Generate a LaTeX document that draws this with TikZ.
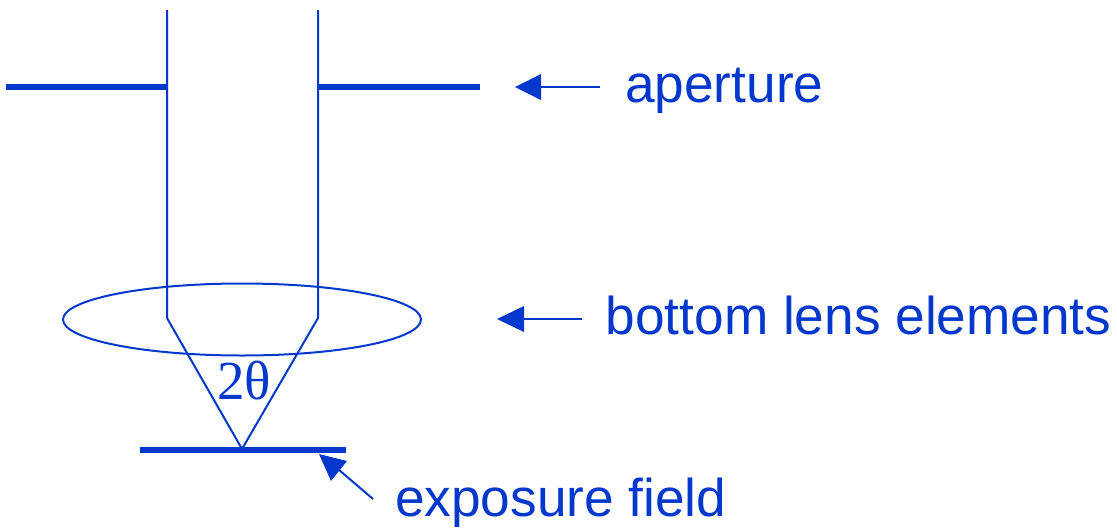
\documentclass[tikz,border=0pt]{standalone}
\usepackage{fontspec}
\setmainfont{Liberation Sans}
\newfontfamily\serifgr{Liberation Serif}
\definecolor{lensblue}{RGB}{3,56,205}
\tikzset{x=1pt,y=-1pt,
 thinl/.style={draw=lensblue,line width=2pt},
 thickl/.style={draw=lensblue,line width=5.5pt},
 pointer/.style={draw=lensblue,line width=2pt},
 headtip/.style={fill=lensblue,draw=none},
 lab/.style={text=lensblue,font=\fontsize{53.2}{56}\selectfont,inner sep=0pt,anchor=base west}}
\begin{document}
\begin{tikzpicture}
\useasboundingbox (0,0) rectangle (1117,528);
\coordinate (apL1) at (6,87); \coordinate (apL2) at (167,87);
\coordinate (apR1) at (318,87); \coordinate (apR2) at (480,87);
\coordinate (bL) at (167,10); \coordinate (bR) at (318,10);
\coordinate (kL) at (167,318); \coordinate (kR) at (318,318);
\coordinate (focus) at (242,449);
\coordinate (f1) at (139.5,450); \coordinate (f2) at (346,450);
\draw[thickl] (apL1)--(apL2);
\draw[thickl] (apR1)--(apR2);
\draw[thinl] (bL)--(kL)--(focus)--(kR)--(bR);
\draw[thinl] (242,319.5) ellipse [x radius=179,y radius=36];
\draw[thickl] (f1)--(f2);
\node[text=lensblue,font=\serifgr\fontsize{55}{58}\selectfont,inner sep=0pt,anchor=base] (theta) at (244,399.5) {2θ};
\node[lab] (aperture) at (625,102.5) {aperture};
\node[lab] (lens) at (605.5,334.5) {bottom lens elements};
\node[lab] (field) at (395,516.5) {exposure field};
\coordinate (a1) at (600,87); \coordinate (a2) at (540,87); \coordinate (a3) at (515,87);
\draw[pointer] (a1)--(a2);
\fill[headtip] (a3)--(541,74)--(541,100)--cycle;
\coordinate (b1) at (582,319); \coordinate (b2) at (520,319);
\draw[pointer] (b1)--(b2);
\fill[headtip] (497,319)--(524,306)--(524,332)--cycle;
\coordinate (c1) at (373,499); \coordinate (c2) at (338,469);
\draw[pointer] (c1)--(c2);
\fill[headtip] (319,454)--(347,461)--(331,481)--cycle;
\end{tikzpicture}
\end{document}
